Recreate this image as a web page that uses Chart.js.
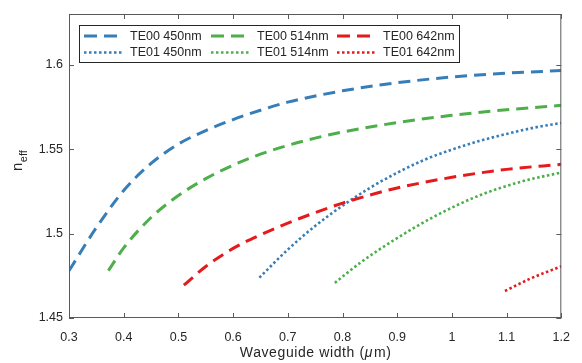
<!DOCTYPE html>
<html>
<head>
<meta charset="utf-8">
<script src="https://cdn.jsdelivr.net/npm/chart.js@4.4.0/dist/chart.umd.min.js"></script>
<style>
  html, body { margin: 0; padding: 0; background: #fff; }
  #wrap { width: 582px; height: 363px; }
</style>
</head>
<body>
<div id="wrap"><canvas id="chart" width="582" height="363"></canvas></div>
<script>
// values (x = waveguide width in um, y = n_eff)
const te00_450_x = [0.3, 0.35, 0.4, 0.45, 0.5, 0.55, 0.6, 0.65, 0.7, 0.8, 0.9, 1.0, 1.1, 1.2];
const te00_450_y = [1.478, 1.5035, 1.5255, 1.5415, 1.553, 1.561, 1.5675, 1.573, 1.5778, 1.5845, 1.5893, 1.5927, 1.595, 1.5965];

const te00_514_x = [0.372, 0.4, 0.45, 0.5, 0.55, 0.6, 0.65, 0.7, 0.75, 0.8, 0.9, 1.0, 1.1, 1.2];
const te00_514_y = [1.478, 1.4915, 1.5095, 1.5225, 1.5325, 1.5405, 1.547, 1.5522, 1.5565, 1.5601, 1.5657, 1.57, 1.5733, 1.5759];

const te00_642_x = [0.51, 0.55, 0.6, 0.65, 0.7, 0.75, 0.8, 0.85, 0.9, 1.0, 1.1, 1.2];
const te00_642_y = [1.4694, 1.4805, 1.4912, 1.4992, 1.5062, 1.5124, 1.518, 1.5228, 1.527, 1.5333, 1.538, 1.541];

const te01_450_x = [0.648, 0.7, 0.75, 0.8, 0.85, 0.9, 0.95, 1.0, 1.05, 1.1, 1.15, 1.2];
const te01_450_y = [1.4739, 1.4905, 1.5045, 1.5165, 1.527, 1.536, 1.5437, 1.5497, 1.5548, 1.559, 1.5627, 1.5655];

const te01_514_x = [0.786, 0.834, 0.893, 0.965, 1.049, 1.132, 1.2];
const te01_514_y = [1.4708, 1.4831, 1.4959, 1.5096, 1.5224, 1.5312, 1.5361];

const te01_642_x = [1.097, 1.144, 1.2];
const te01_642_y = [1.466, 1.4734, 1.4806];

const seriesLabels = ['TE00 450nm', 'TE00 514nm', 'TE00 642nm', 'TE01 450nm', 'TE01 514nm', 'TE01 642nm'];
const xTicks = [0.3, 0.4, 0.5, 0.6, 0.7, 0.8, 0.9, 1, 1.1, 1.2];
const yTicks = [1.45, 1.5, 1.55, 1.6];

const BLUE = '#377eb8';
const GREEN = '#4daf4a';
const RED = '#e41a1c';
const AXIS = '#5a5a5a';
const TEXT = '#262626';
const FONT = '"Liberation Sans", Arial, sans-serif';

function toPoints(xs, ys) {
    return xs.map((x, i) => ({ x: x, y: ys[i] }));
}

function makeSet(label, xs, ys, color, dash, width) {
    return {
        label: label,
        data: toPoints(xs, ys),
        borderColor: color,
        backgroundColor: color,
        borderWidth: width,
        borderDash: dash,
        borderCapStyle: 'butt',
        pointRadius: 0,
        fill: false,
        cubicInterpolationMode: 'monotone'
    };
}

const DASH = [12, 7];
const DOT = [2.5, 2.5];

// box, inward ticks, axis titles and legend, like the matlab figure
const framePlugin = {
    id: 'frame',
    afterDraw(chart) {
        const ctx = chart.ctx;
        const a = chart.chartArea;
        const xs = chart.scales.x;
        const ys = chart.scales.y;
        ctx.save();
        ctx.strokeStyle = AXIS;
        ctx.lineWidth = 1;
        ctx.strokeRect(a.left + 0.5, a.top + 0.5, a.right - a.left - 1, a.bottom - a.top - 1);
        ctx.beginPath();
        xTicks.forEach(v => {
            const px = Math.round(xs.getPixelForValue(v)) + 0.5;
            ctx.moveTo(px, a.bottom); ctx.lineTo(px, a.bottom - 5);
            ctx.moveTo(px, a.top); ctx.lineTo(px, a.top + 5);
        });
        yTicks.forEach(v => {
            const py = Math.round(ys.getPixelForValue(v)) + 0.5;
            ctx.moveTo(a.left, py); ctx.lineTo(a.left + 5, py);
            ctx.moveTo(a.right, py); ctx.lineTo(a.right - 5, py);
        });
        ctx.stroke();

        // x title, with italic mu
        ctx.fillStyle = TEXT;
        ctx.textBaseline = 'alphabetic';
        ctx.textAlign = 'left';
        ctx.letterSpacing = '0.6px';
        const t1 = 'Waveguide width (';
        const t2 = 'μ';
        const t3 = 'm)';
        ctx.font = '14px ' + FONT;
        const w1 = ctx.measureText(t1).width;
        const w3 = ctx.measureText(t3).width;
        ctx.font = 'italic 14px ' + FONT;
        const w2 = ctx.measureText(t2).width;
        const cx = (a.left + a.right) / 2;
        const tx = cx - (w1 + w2 + w3) / 2;
        const ty = 357;
        ctx.font = '14px ' + FONT;
        ctx.fillText(t1, tx, ty);
        ctx.font = 'italic 14px ' + FONT;
        ctx.fillText(t2, tx + w1, ty);
        ctx.font = '14px ' + FONT;
        ctx.fillText(t3, tx + w1 + w2 + 1, ty);
        ctx.letterSpacing = '0px';

        // y title n_eff
        ctx.save();
        ctx.translate(22, 171);
        ctx.rotate(-Math.PI / 2);
        ctx.font = '15px ' + FONT;
        ctx.fillText('n', 0, 0);
        const nw = ctx.measureText('n').width;
        ctx.font = '11px ' + FONT;
        ctx.fillText('eff', nw + 0.5, 4.5);
        ctx.restore();

        // legend
        const lx = 79.5, ly = 25.5, lw = 380, lh = 37;
        ctx.fillStyle = '#fff';
        ctx.fillRect(lx, ly, lw, lh);
        ctx.strokeStyle = TEXT;
        ctx.lineWidth = 1;
        ctx.strokeRect(lx, ly, lw, lh);
        const colX = [84, 211, 337];
        const rowY = [36, 52.5];
        ctx.font = '12.5px ' + FONT;
        ctx.textBaseline = 'middle';
        chart.data.datasets.forEach((ds, i) => {
            const col = i % 3;
            const row = Math.floor(i / 3);
            const x0 = colX[col];
            const y0 = rowY[row];
            ctx.strokeStyle = ds.borderColor;
            ctx.lineWidth = ds.borderWidth;
            ctx.setLineDash(row === 0 ? [13, 7] : ds.borderDash);
            ctx.lineCap = 'butt';
            ctx.beginPath();
            ctx.moveTo(x0, y0);
            ctx.lineTo(x0 + 39, y0);
            ctx.stroke();
            ctx.setLineDash([]);
            ctx.fillStyle = TEXT;
            ctx.fillText(ds.label, x0 + 46, y0 + 0.5);
        });
        ctx.restore();
    }
};

new Chart(document.getElementById('chart').getContext('2d'), {
    type: 'line',
    data: {
        datasets: [
            makeSet(seriesLabels[0], te00_450_x, te00_450_y, BLUE, DASH, 3),
            makeSet(seriesLabels[1], te00_514_x, te00_514_y, GREEN, DASH, 3),
            makeSet(seriesLabels[2], te00_642_x, te00_642_y, RED, DASH, 3),
            makeSet(seriesLabels[3], te01_450_x, te01_450_y, BLUE, DOT, 2.6),
            makeSet(seriesLabels[4], te01_514_x, te01_514_y, GREEN, DOT, 2.6),
            makeSet(seriesLabels[5], te01_642_x, te01_642_y, RED, DOT, 2.6)
        ]
    },
    options: {
        responsive: false,
        animation: false,
        layout: { padding: { top: 14, right: 11, left: 0, bottom: 0 } },
        plugins: {
            legend: { display: false },
            tooltip: { enabled: false }
        },
        scales: {
            x: {
                type: 'linear',
                min: 0.3,
                max: 1.2,
                afterBuildTicks: s => { s.ticks = xTicks.map(v => ({ value: v })); },
                afterFit: s => { s.height = 45; },
                grid: { display: false, drawTicks: false },
                border: { display: false },
                ticks: {
                    padding: 12,
                    color: TEXT,
                    font: { family: FONT, size: 12.5 },
                    callback: v => String(Math.round(v * 10) / 10)
                }
            },
            y: {
                type: 'linear',
                min: 1.45,
                max: 1.63,
                afterBuildTicks: s => { s.ticks = yTicks.map(v => ({ value: v })); },
                afterFit: s => { s.width = 69; },
                grid: { display: false, drawTicks: false },
                border: { display: false },
                ticks: {
                    padding: 6,
                    color: TEXT,
                    font: { family: FONT, size: 12.5 },
                    callback: v => String(Math.round(v * 100) / 100)
                }
            }
        }
    },
    plugins: [framePlugin]
});
</script>
</body>
</html>
